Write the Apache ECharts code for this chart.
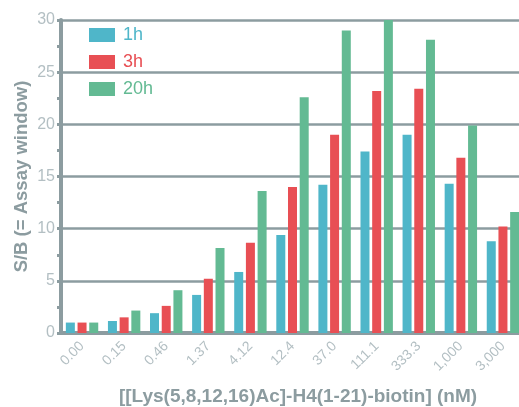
<!DOCTYPE html>
<html>
<head>
<meta charset="utf-8">
<script src="https://cdn.jsdelivr.net/npm/echarts@6/dist/echarts.min.js"></script>
<style>
  html, body { margin: 0; padding: 0; background: #fff; }
  #chart { width: 519px; height: 407px; }
</style>
</head>
<body>
<div id="chart"></div>
<script>
// concentrations (nM)
var categories = ['0.00', '0.15', '0.46', '1.37', '4.12', '12.4', '37.0', '111.1', '333.3', '1,000', '3,000'];
// S/B values per incubation time
var values1h  = [1.0, 1.15, 1.9, 3.65, 5.85, 9.4, 14.2, 17.4, 19.0, 14.3, 8.8];
var values3h  = [1.0, 1.5, 2.6, 5.2, 8.65, 14.0, 19.0, 23.2, 23.4, 16.8, 10.2];
var values20h = [1.0, 2.15, 4.1, 8.15, 13.6, 22.6, 29.0, 30.0, 28.1, 19.9, 11.6];
var yTicks = [0, 5, 10, 15, 20, 25, 30];

var axisGray = '#8c9ca0';
var labelGray = '#b3bfc3';
var colors = ['#4fb6c9', '#e84f54', '#63ba93'];

var chart = echarts.init(document.getElementById('chart'));

var option = {
    animation: false,
    textStyle: { fontFamily: 'Liberation Sans' },
    grid: { left: 61, top: 20, width: 463, height: 313, containLabel: false, outerBoundsMode: 'none' },
    legend: {
        orient: 'vertical',
        left: 84,
        top: 21,
        itemWidth: 26,
        itemHeight: 14,
        itemGap: 9,
        icon: 'rect',
        textStyle: { fontSize: 18, padding: [0, 0, 0, 3] },
        data: [
            { name: '1h', textStyle: { color: colors[0] } },
            { name: '3h', textStyle: { color: colors[1] } },
            { name: '20h', textStyle: { color: colors[2] } }
        ]
    },
    xAxis: {
        type: 'category',
        data: categories,
        name: '[[Lys(5,8,12,16)Ac]-H4(1-21)-biotin] (nM)',
        nameLocation: 'middle',
        nameGap: 54,
        nameTextStyle: { color: axisGray, fontSize: 19, fontWeight: 'bold', padding: [0, 0, 0, 11] },
        axisLine: { lineStyle: { color: axisGray, width: 4 } },
        axisTick: { alignWithLabel: true, length: 6, lineStyle: { color: axisGray, width: 4 } },
        axisLabel: { rotate: 45, color: labelGray, fontSize: 14, margin: 11 }
    },
    yAxis: {
        type: 'value',
        min: yTicks[0],
        max: yTicks[yTicks.length - 1],
        interval: 5,
        name: 'S/B (= Assay window)',
        nameLocation: 'middle',
        nameGap: 30,
        nameMoveOverlap: false,
        nameTextStyle: { color: axisGray, fontSize: 18.5, fontWeight: 'bold' },
        axisLine: { show: true, lineStyle: { color: axisGray, width: 4 } },
        axisTick: { show: true, length: 4, lineStyle: { color: axisGray, width: 3 } },
        minorTick: { show: true, splitNumber: 2, length: 4, lineStyle: { color: axisGray, width: 3 } },
        axisLabel: { color: labelGray, fontSize: 16, margin: 6 },
        splitLine: { show: true, lineStyle: { color: axisGray, width: 2.5 } }
    },
    series: [
        { name: '1h', type: 'bar', data: values1h, barWidth: 9, barGap: '30%', itemStyle: { color: colors[0] } },
        { name: '3h', type: 'bar', data: values3h, barWidth: 9, barGap: '30%', itemStyle: { color: colors[1] } },
        { name: '20h', type: 'bar', data: values20h, barWidth: 9, barGap: '30%', itemStyle: { color: colors[2] } }
    ]
};

chart.setOption(option);
</script>
</body>
</html>
